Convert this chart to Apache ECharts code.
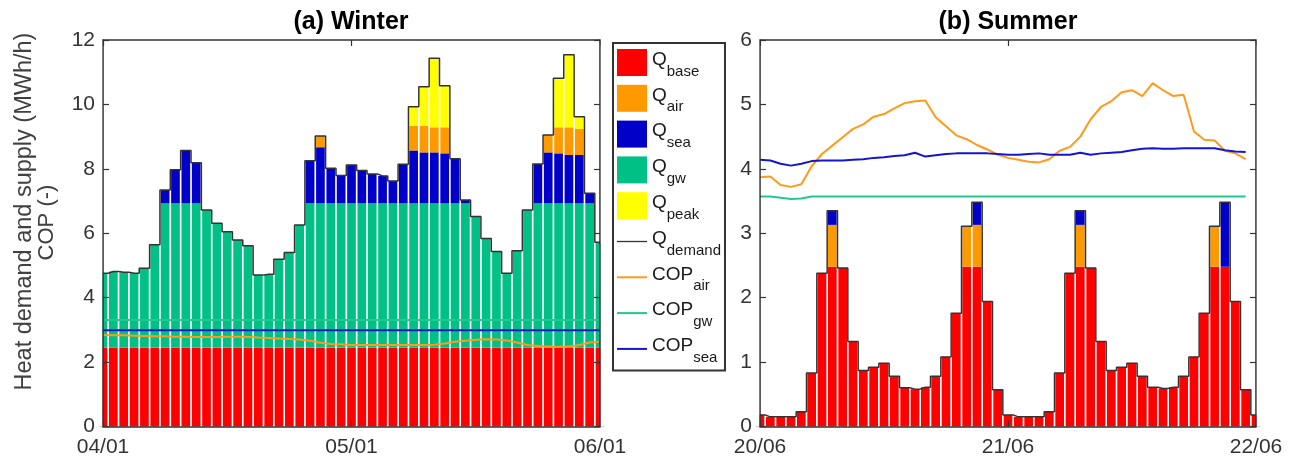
<!DOCTYPE html>
<html><head><meta charset="utf-8">
<script src="https://cdn.jsdelivr.net/npm/echarts@6/dist/echarts.min.js"></script>
<style>html,body{margin:0;padding:0;background:#fff}#c{width:1298px;height:464px}</style>
</head><body><div id="c"></div>
<script>
// ---------- data ----------
const hours = ['0','1','2','3','4','5','6','7','8','9','10','11','12','13','14','15','16','17','18','19','20','21','22','23','24','25','26','27','28','29','30','31','32','33','34','35','36','37','38','39','40','41','42','43','44','45','46','47','48'];
const winterTicks = ['04/01','05/01','06/01'];
const summerTicks = ['20/06','21/06','22/06'];

const winterBase = [2.45,2.45,2.45,2.45,2.45,2.45,2.45,2.45,2.45,2.45, 2.45,2.45,2.45,2.45,2.45,2.45,2.45,2.45,2.45,2.45, 2.45,2.45,2.45,2.45,2.45,2.45,2.45,2.45,2.45,2.45, 2.45,2.45,2.45,2.45,2.45,2.45,2.45,2.45,2.45,2.45, 2.45,2.45,2.45,2.45,2.45,2.45,2.45,2.45,2.45];
const winterGw = [2.31,2.36,2.34,2.31,2.46,3.19,4.48,4.48,4.48,4.48, 4.27,3.86,3.60,3.34,3.16,2.25,2.28,2.74,2.95,3.81, 4.48,4.48,4.48,4.48,4.48,4.48,4.48,4.48,4.48,4.48, 4.48,4.48,4.48,4.48,4.48,4.48,4.07,3.39,2.98,2.31, 3.01,4.27,4.48,4.48,4.48,4.48,4.48,4.48,3.27];
const winterSea = [0,0,0,0,0,0,0.41,1.04,1.64,1.26, 0,0,0,0,0,0,0,0,0,0, 1.32,1.74,1.09,0.86,1.19,1.02,0.91,0.85,0.69,1.21, 1.64,1.58,1.58,1.55,1.38,0.10,0,0,0,0, 0,0,1.22,1.58,1.55,1.50,1.50,0.31,0];
const winterAir = [0,0,0,0,0,0,0,0,0,0, 0,0,0,0,0,0,0,0,0,0, 0,0.35,0,0,0,0,0,0,0,0, 0.77,0.83,0.78,0.81,0,0,0,0,0,0, 0,0,0,0.54,0.81,0.86,0.81,0,0];
const winterPeak = [0,0,0,0,0,0,0,0,0,0, 0,0,0,0,0,0,0,0,0,0, 0,0,0,0,0,0,0,0,0,0, 0.59,1.21,2.14,1.29,0,0,0,0,0,0, 0,0,0,0,1.52,2.25,0.38,0,0];
const winterDemand = [4.76,4.81,4.79,4.76,4.91,5.64,7.34,7.97,8.57,8.19, 6.72,6.31,6.05,5.79,5.61,4.70,4.73,5.19,5.40,6.26, 8.25,9.02,8.02,7.79,8.12,7.95,7.84,7.78,7.62,8.14, 9.93,10.55,11.43,10.58,8.31,7.03,6.52,5.84,5.43,4.76, 5.46,6.72,8.15,9.05,10.81,11.54,9.62,7.24,5.72];
const winterCopAir = [2.84,2.83,2.83,2.82,2.81,2.80,2.80,2.79,2.79,2.78, 2.78,2.78,2.79,2.79,2.78,2.76,2.75,2.73,2.72,2.70, 2.66,2.60,2.56,2.55,2.53,2.53,2.53,2.53,2.53,2.53, 2.53,2.53,2.54,2.58,2.63,2.66,2.69,2.71,2.70,2.67, 2.61,2.53,2.50,2.48,2.47,2.48,2.53,2.61,2.63];
const winterCopGw = [3.31,3.31,3.31,3.31,3.31,3.31,3.31,3.31,3.31,3.31, 3.31,3.31,3.31,3.31,3.31,3.31,3.31,3.31,3.31,3.31, 3.31,3.31,3.31,3.31,3.31,3.31,3.31,3.31,3.31,3.31, 3.31,3.31,3.31,3.31,3.31,3.31,3.31,3.31,3.31,3.31, 3.31,3.31,3.31,3.31,3.31,3.31,3.31,3.31,3.31];
const winterCopSea = [2.99,2.99,2.99,2.99,2.99,2.99,2.99,2.99,2.99,2.99, 2.99,2.99,2.99,2.99,2.99,2.99,2.99,2.99,2.99,2.99, 2.99,2.99,2.99,2.99,2.99,2.99,2.99,2.99,2.99,2.99, 2.99,2.99,2.99,2.99,2.99,2.99,2.99,2.99,2.99,2.99, 2.99,2.99,2.99,2.99,2.99,2.99,2.99,2.99,2.99];

const summerBase = [0.18,0.15,0.15,0.15,0.23,0.83,2.38,2.48,2.46,1.32, 0.87,0.92,0.98,0.78,0.60,0.58,0.61,0.78,1.08,1.76, 2.48,2.48,1.94,0.57,0.18,0.15,0.15,0.15,0.23,0.83, 2.38,2.48,2.46,1.32,0.87,0.92,0.98,0.78,0.61,0.59, 0.61,0.78,1.08,1.76,2.48,2.48,1.94,0.57,0.18];
const summerAir = [0,0,0,0,0,0,0,0.65,0,0, 0,0,0,0,0,0,0,0,0,0, 0.63,0.65,0,0,0,0,0,0,0,0, 0,0.65,0,0,0,0,0,0,0,0, 0,0,0,0,0.63,0,0,0,0];
const summerSea = [0,0,0,0,0,0,0,0.22,0,0, 0,0,0,0,0,0,0,0,0,0, 0,0.35,0,0,0,0,0,0,0,0, 0,0.22,0,0,0,0,0,0,0,0, 0,0,0,0,0,1.00,0,0,0];
const summerDemand = [0.18,0.15,0.15,0.15,0.23,0.83,2.38,3.35,2.46,1.32, 0.87,0.92,0.98,0.78,0.60,0.58,0.61,0.78,1.08,1.76, 3.11,3.48,1.94,0.57,0.18,0.15,0.15,0.15,0.23,0.83, 2.38,3.35,2.46,1.32,0.87,0.92,0.98,0.78,0.61,0.59, 0.61,0.78,1.08,1.76,3.11,3.48,1.94,0.57,0.18];
const summerCopAir = [3.87,3.88,3.75,3.72,3.76,4.04,4.23,4.36,4.49,4.62, 4.69,4.81,4.85,4.94,5.02,5.05,5.06,4.80,4.66,4.52, 4.46,4.37,4.30,4.22,4.17,4.14,4.11,4.10,4.15,4.28, 4.34,4.50,4.77,4.96,5.05,5.19,5.22,5.13,5.33,5.22, 5.13,5.15,4.58,4.45,4.44,4.28,4.24,4.15];
const summerCopGw = [3.57,3.57,3.55,3.53,3.54,3.57,3.57,3.57,3.57,3.57, 3.57,3.57,3.57,3.57,3.57,3.57,3.57,3.57,3.57,3.57, 3.57,3.57,3.57,3.57,3.57,3.57,3.57,3.57,3.57,3.57, 3.57,3.57,3.57,3.57,3.57,3.57,3.57,3.57,3.57,3.57, 3.57,3.57,3.57,3.57,3.57,3.57,3.57,3.57];
const summerCopSea = [4.14,4.13,4.08,4.05,4.08,4.12,4.13,4.13,4.13,4.14, 4.15,4.17,4.18,4.20,4.21,4.25,4.19,4.21,4.23,4.24, 4.24,4.24,4.24,4.23,4.22,4.22,4.23,4.24,4.22,4.22, 4.22,4.25,4.22,4.24,4.25,4.26,4.29,4.31,4.32,4.31, 4.31,4.32,4.32,4.32,4.32,4.29,4.27,4.26];

// ---------- styling ----------
const FONT = '"Liberation Sans", Arial, Helvetica, sans-serif';
const AX = '#333333';
const COL = {base:'#ff0000', air:'#ff9900', sea:'#0000c8', gw:'#00c085', peak:'#ffff00'};
const LCOL = {demand:'#333333', air:'#ff9a1a', gw:'#22c88e', sea:'#1414d2'};
const every24 = (i) => i % 24 === 0;
const GRIDS = [
  {left:103, top:40, width:497, height:386.5},
  {left:760, top:40, width:496, height:386.5}
];

function xAx(grid, ticks, pos, show) {
  return {
    type:'category', data:hours, boundaryGap:false, gridIndex:grid, position:pos,
    axisLine:{show:true, onZero:false, lineStyle:{color:AX, width:1.6}},
    axisTick:{show:true, inside:true, length:6, interval:every24, lineStyle:{color:AX, width:1.2}},
    axisLabel:{show:show, interval:every24, margin:10, color:'#333', fontSize:21, fontFamily:FONT,
      formatter:(v, i)=>ticks[Math.round(i/24)]},
    splitLine:{show:false}, z:6
  };
}
function yAx(grid, max, interval, pos, show) {
  return {
    type:'value', gridIndex:grid, position:pos, min:0, max:max, interval:interval,
    axisLine:{show:true, onZero:false, lineStyle:{color:AX, width:1.6}},
    axisTick:{show:true, inside:true, length:6, lineStyle:{color:AX, width:1.2}},
    axisLabel:{show:show, margin:8, color:'#333', fontSize:21, fontFamily:FONT},
    splitLine:{show:false}, z:6
  };
}
function bar(name, arr, xi, stack, color) {
  return {name, type:'bar', xAxisIndex:xi, yAxisIndex:xi, stack, data:arr, clip:true,
    barWidth:'84%', itemStyle:{color}, z:2, emphasis:{disabled:true}};
}
function line(name, arr, xi, color, width, step) {
  return {name, type:'line', xAxisIndex:xi, yAxisIndex:xi, data:arr, step:step||false, clip:true,
    symbol:'none', showSymbol:false, lineStyle:{color, width}, itemStyle:{color}, z:step?4:5, emphasis:{disabled:true}};
}
// white masks that trim the half bars overhanging the plot boxes (bars centred on the edge hours)
function masks() {
  const out = [];
  GRIDS.forEach(g => {
    [[g.left - 8, 7.2], [g.left + g.width + 0.8, 7.2]].forEach(([x, w]) => {
      out.push({type:'rect', silent:true, z:50, shape:{x, y:g.top - 2, width:w, height:g.height + 2},
        style:{fill:'#ffffff'}});
    });
  });
  return out;
}
const lineIcon = 'path://M0,0L60,0L60,4L0,4Z';
const thinIcon = 'path://M0,0L60,0L60,2.6L0,2.6Z';

const chart = echarts.init(document.getElementById('c'), null, {renderer:'canvas'});
chart.setOption({
  animation:false,
  backgroundColor:'#fff',
  grid:GRIDS,
  xAxis:[ xAx(0, winterTicks, 'bottom', true), xAx(0, winterTicks, 'top', false),
          xAx(1, summerTicks, 'bottom', true), xAx(1, summerTicks, 'top', false) ],
  yAxis:[ yAx(0, 12, 2, 'left', true), yAx(0, 12, 2, 'right', false),
          yAx(1, 6, 1, 'left', true), yAx(1, 6, 1, 'right', false) ],
  legend:{
    orient:'vertical', left:613, top:43, padding:[3,4,5,4],
    itemWidth:30, itemHeight:27, itemGap:2.8, itemTextGap:3,
    borderColor:'#333', borderWidth:2, selectedMode:false,
    data:[
      {name:'Q_base', icon:'rect'}, {name:'Q_air', icon:'rect'}, {name:'Q_sea', icon:'rect'},
      {name:'Q_gw', icon:'rect'}, {name:'Q_peak', icon:'rect'},
      {name:'Q_demand', icon:thinIcon}, {name:'COP_air', icon:lineIcon},
      {name:'COP_gw', icon:lineIcon}, {name:'COP_sea', icon:lineIcon}
    ],
    formatter:(n)=>{ const p = n.split('_'); return '{m|' + p[0] + '}{s|' + p[1] + '}'; },
    textStyle:{
      color:'#1a1a1a', fontFamily:FONT,
      rich:{
        m:{fontSize:19, fontFamily:FONT, color:'#1a1a1a', lineHeight:22, padding:[0,0,6,0]},
        s:{fontSize:15, fontFamily:FONT, color:'#1a1a1a', lineHeight:22, padding:[18,0,0,0]}
      }
    }
  },
  graphic:[
    ...masks(),
    {type:'text', x:351, y:22, style:{text:'(a) Winter', font:'bold 25px ' + FONT, fill:'#000',
      align:'center', verticalAlign:'middle', textAlign:'center', textVerticalAlign:'middle'}},
    {type:'text', x:1008, y:22, style:{text:'(b) Summer', font:'bold 25px ' + FONT, fill:'#000',
      align:'center', verticalAlign:'middle', textAlign:'center', textVerticalAlign:'middle'}},
    {type:'text', x:24.5, y:211.5, rotation:Math.PI/2, style:{text:'Heat demand and supply (MWh/h)', font:'23.5px ' + FONT, fill:'#404040',
      align:'center', verticalAlign:'middle', textAlign:'center', textVerticalAlign:'middle'}},
    {type:'text', x:46.5, y:222.5, rotation:Math.PI/2, style:{text:'COP (-)', font:'22px ' + FONT, fill:'#404040',
      align:'center', verticalAlign:'middle', textAlign:'center', textVerticalAlign:'middle'}}
  ],
  series:[
    // winter
    bar('Q_base', winterBase, 0, 'w', COL.base),
    bar('Q_gw', winterGw, 0, 'w', COL.gw),
    bar('Q_sea', winterSea, 0, 'w', COL.sea),
    bar('Q_air', winterAir, 0, 'w', COL.air),
    bar('Q_peak', winterPeak, 0, 'w', COL.peak),
    line('Q_demand', winterDemand, 0, LCOL.demand, 1.5, 'middle'),
    line('COP_air', winterCopAir, 0, LCOL.air, 2),
    line('COP_gw', winterCopGw, 0, LCOL.gw, 2),
    line('COP_sea', winterCopSea, 0, LCOL.sea, 2),
    // summer
    bar('Q_base', summerBase, 2, 's', COL.base),
    bar('Q_air', summerAir, 2, 's', COL.air),
    bar('Q_sea', summerSea, 2, 's', COL.sea),
    line('Q_demand', summerDemand, 2, LCOL.demand, 1.5, 'middle'),
    line('COP_air', summerCopAir, 2, LCOL.air, 2),
    line('COP_gw', summerCopGw, 2, LCOL.gw, 2),
    line('COP_sea', summerCopSea, 2, LCOL.sea, 2)
  ]
});
</script></body></html>
